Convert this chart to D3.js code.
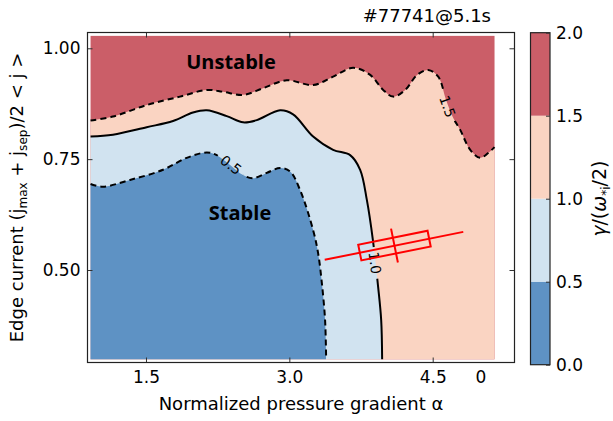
<!DOCTYPE html>
<html>
<head>
<meta charset="utf-8">
<script src="https://cdn.jsdelivr.net/npm/d3@7"></script>
<style>
  body { margin: 0; background: #fff; }
  svg { display: block; font-family: "DejaVu Sans", sans-serif; }
</style>
</head>
<body>
<div id="chart"></div>
<script>
// growth-rate levels and the fill used for each band
const levels = [0.0, 0.5, 1.0, 1.5, 2.0];
const levelColors = ['#5e92c4', '#d1e3f0', '#fad4c2', '#cb5e68'];

// contour lines of gamma, as [alpha, edge current]
const contour05 = [
  [0.92, 0.694], [1.05, 0.688], [1.332, 0.703], [1.678, 0.726], [1.926, 0.753],
  [2.136, 0.765], [2.24, 0.759], [2.38, 0.737], [2.516, 0.714], [2.62, 0.707],
  [2.764, 0.719], [2.903, 0.73], [3.008, 0.722], [3.113, 0.68], [3.249, 0.59],
  [3.301, 0.538], [3.34, 0.471], [3.374, 0.387], [3.385, 0.2986]
];
const contour10 = [
  [0.92, 0.801], [1.154, 0.805], [1.507, 0.822], [1.783, 0.836], [1.992, 0.855],
  [2.136, 0.86], [2.345, 0.847], [2.516, 0.833], [2.659, 0.838], [2.903, 0.86],
  [3.039, 0.851], [3.249, 0.801], [3.458, 0.771], [3.636, 0.759], [3.741, 0.726],
  [3.811, 0.658], [3.874, 0.568], [3.929, 0.462], [3.961, 0.387], [3.971, 0.2986]
];
const contour15 = [
  [0.92, 0.837], [1.154, 0.846], [1.507, 0.872], [1.856, 0.891], [2.136, 0.906],
  [2.306, 0.902], [2.516, 0.895], [2.725, 0.91], [2.973, 0.928], [3.249, 0.917],
  [3.458, 0.936], [3.668, 0.956], [3.846, 0.94], [3.982, 0.906], [4.086, 0.891],
  [4.212, 0.906], [4.337, 0.94], [4.453, 0.951], [4.558, 0.936], [4.641, 0.883],
  [4.715, 0.843], [4.788, 0.816], [4.893, 0.771], [4.997, 0.753], [5.081, 0.764],
  [5.147, 0.777]
];

const contourLabels = [
  { text: '0.5', a: 2.389, j: 0.737 },
  { text: '1.0', a: 3.896, j: 0.516 },
  { text: '1.5', a: 4.655, j: 0.869 }
];
const regionLabels = [
  { text: 'Unstable', a: 2.389, j: 0.969 },
  { text: 'Stable', a: 2.484, j: 0.629 }
];

// scanned range and axis limits
const alphaExtent = [0.92, 5.147];
const currentExtent = [0.2986, 1.028];
const xLimits = [0.888, 5.356];
const yLimits = [0.2914, 1.0356];

const xTickValues = [1.5, 3.0, 4.5, 5.0];
const xTickLabels = ['1.5', '3.0', '4.5', '0'];
const yTickValues = [0.5, 0.75, 1.0];
const yTickLabels = ['0.50', '0.75', '1.00'];
const cbTickLabels = ['0.0', '0.5', '1.0', '1.5', '2.0'];

const shotLabel = '#77741@5.1s';

// experimental operating point with its uncertainty box
const opCenter = [4.10, 0.555];
const opLine = [[3.37, 0.523], [4.82, 0.586]];
const opBox = [0.37, 0.018];
const opBar = 0.039;

const width = 613;
const height = 421;
const plot = { left: 87.5, right: 514.5, top: 32.5, bottom: 362.5 };

const svg = d3.select('#chart')
  .append('svg')
    .attr('width', width)
    .attr('height', height);

const x = d3.scaleLinear().domain(xLimits).range([plot.left, plot.right]);
const y = d3.scaleLinear().domain(yLimits).range([plot.bottom, plot.top]);

const line = d3.line()
  .x(d => x(d[0]))
  .y(d => y(d[1]))
  .curve(d3.curveCatmullRom.alpha(0.5));

const x0 = x(alphaExtent[0]), x1 = x(alphaExtent[1]);
const y0 = y(currentExtent[0]), y1 = y(currentExtent[1]);

// filled bands, painted from the top level down
svg.append('rect')
  .attr('x', x0)
  .attr('y', y1)
  .attr('width', x1 - x0)
  .attr('height', y0 - y1)
  .attr('fill', levelColors[3]);

svg.append('path')
  .attr('d', line(contour15) + `L${x1},${y0}L${x0},${y0}Z`)
  .attr('fill', levelColors[2]);

svg.append('path')
  .attr('d', line(contour10) + `L${x0},${y0}Z`)
  .attr('fill', levelColors[1]);

svg.append('path')
  .attr('d', line(contour05) + `L${x0},${y0}Z`)
  .attr('fill', levelColors[0]);

// where a label sits, take the direction of the contour
const labelAngle = (pts, a, j) => {
  let best = 0;
  let bestD = Infinity;
  pts.forEach((p, i) => {
    const d = (x(p[0]) - x(a)) ** 2 + (y(p[1]) - y(j)) ** 2;
    if (d < bestD) { bestD = d; best = i; }
  });
  const p0 = pts[Math.max(best - 1, 0)];
  const p1 = pts[Math.min(best + 1, pts.length - 1)];
  let ang = Math.atan2(y(p1[1]) - y(p0[1]), x(p1[0]) - x(p0[0])) * 180 / Math.PI;
  if (ang > 90) ang -= 180;
  if (ang < -90) ang += 180;
  return ang;
};

const contourByLabel = { '0.5': contour05, '1.0': contour10, '1.5': contour15 };
contourLabels.forEach(l => {
  l.angle = labelAngle(contourByLabel[l.text], l.a, l.j);
});

// cut the lines where the labels go
const mask = svg.append('defs')
  .append('mask')
    .attr('id', 'labelGaps')
    .attr('maskUnits', 'userSpaceOnUse')
    .attr('x', 0).attr('y', 0)
    .attr('width', width).attr('height', height);
mask.append('rect')
  .attr('width', width)
  .attr('height', height)
  .attr('fill', '#fff');
mask.selectAll('.gap')
  .data(contourLabels)
  .enter()
  .append('rect')
    .attr('x', -16)
    .attr('y', -7)
    .attr('width', 32)
    .attr('height', 14)
    .attr('fill', '#000')
    .attr('transform', d => `translate(${x(d.a)},${y(d.j)}) rotate(${d.angle})`);

const lines = svg.append('g')
  .attr('mask', 'url(#labelGaps)')
  .attr('fill', 'none')
  .attr('stroke', '#000')
  .attr('stroke-width', 2);

lines.append('path').attr('d', line(contour05)).attr('stroke-dasharray', '6,4');
lines.append('path').attr('d', line(contour10));
lines.append('path').attr('d', line(contour15)).attr('stroke-dasharray', '6,4');

svg.selectAll('.clabel')
  .data(contourLabels)
  .enter()
  .append('text')
    .attr('class', 'clabel')
    .attr('transform', d => `translate(${x(d.a)},${y(d.j)}) rotate(${d.angle})`)
    .attr('text-anchor', 'middle')
    .attr('dy', '0.36em')
    .style('font-size', '14px')
    .text(d => d.text);

svg.selectAll('.region')
  .data(regionLabels)
  .enter()
  .append('text')
    .attr('class', 'region')
    .attr('x', d => x(d.a))
    .attr('y', d => y(d.j))
    .attr('dy', '0.36em')
    .attr('text-anchor', 'middle')
    .style('font-family', '"Open Sans", sans-serif')
    .style('font-weight', 'bold')
    .style('font-size', '20px')
    .text(d => d.text);

// operating point
const opAngle = Math.atan2(y(opLine[1][1]) - y(opLine[0][1]), x(opLine[1][0]) - x(opLine[0][0])) * 180 / Math.PI;
svg.append('line')
  .attr('x1', x(opLine[0][0]))
  .attr('y1', y(opLine[0][1]))
  .attr('x2', x(opLine[1][0]))
  .attr('y2', y(opLine[1][1]))
  .attr('stroke', '#f00')
  .attr('stroke-width', 2);

const op = svg.append('g')
  .attr('transform', `translate(${x(opCenter[0])},${y(opCenter[1])}) rotate(${opAngle})`)
  .attr('fill', 'none')
  .attr('stroke', '#f00')
  .attr('stroke-width', 2);
const boxW = x(opCenter[0] + opBox[0]) - x(opCenter[0] - opBox[0]);
const boxH = y(opCenter[1] - opBox[1]) - y(opCenter[1] + opBox[1]);
const barH = y(opCenter[1] - opBar) - y(opCenter[1] + opBar);
op.append('rect')
  .attr('x', -boxW / 2)
  .attr('y', -boxH / 2)
  .attr('width', boxW)
  .attr('height', boxH);
op.append('line')
  .attr('x1', 0).attr('x2', 0)
  .attr('y1', -barH / 2).attr('y2', barH / 2);

// axes, ticks pointing inwards on all four sides
const styleAxis = g => {
  g.select('.domain').remove();
  g.attr('font-size', 17).attr('font-family', '"DejaVu Sans", sans-serif');
  g.selectAll('.tick line').attr('stroke', '#333');
};

const xAxis = svg.append('g')
  .attr('transform', `translate(0,${plot.bottom})`)
  .call(d3.axisBottom(x).tickValues(xTickValues)
    .tickFormat((d, i) => xTickLabels[i])
    .tickSizeInner(-5).tickSizeOuter(0).tickPadding(8))
  .call(styleAxis);
xAxis.selectAll('.tick')
  .filter((d, i) => xTickLabels[i] === '0')
  .select('line').remove();

svg.append('g')
  .attr('transform', `translate(0,${plot.top})`)
  .call(d3.axisTop(x).tickValues(xTickValues.filter((d, i) => xTickLabels[i] !== '0'))
    .tickFormat('').tickSizeInner(-5).tickSizeOuter(0))
  .call(styleAxis);

svg.append('g')
  .attr('transform', `translate(${plot.left},0)`)
  .call(d3.axisLeft(y).tickValues(yTickValues)
    .tickFormat((d, i) => yTickLabels[i])
    .tickSizeInner(-5).tickSizeOuter(0).tickPadding(7))
  .call(styleAxis);

svg.append('g')
  .attr('transform', `translate(${plot.right},0)`)
  .call(d3.axisRight(y).tickValues(yTickValues)
    .tickFormat('').tickSizeInner(-5).tickSizeOuter(0))
  .call(styleAxis);

svg.append('rect')
  .attr('x', plot.left)
  .attr('y', plot.top)
  .attr('width', plot.right - plot.left)
  .attr('height', plot.bottom - plot.top)
  .attr('fill', 'none')
  .attr('stroke', '#222')
  .attr('stroke-width', 1.2);

// labels
svg.append('text')
  .attr('x', 491)
  .attr('y', 22)
  .attr('text-anchor', 'end')
  .style('font-size', '18px')
  .text(shotLabel);

svg.append('text')
  .attr('x', (plot.left + plot.right) / 2)
  .attr('y', 410)
  .attr('text-anchor', 'middle')
  .style('font-size', '18px')
  .text('Normalized pressure gradient α');

const yLabel = svg.append('text')
  .attr('transform', `translate(23,${(plot.top + plot.bottom) / 2}) rotate(-90)`)
  .attr('text-anchor', 'middle')
  .style('font-size', '18px');
yLabel.append('tspan').text('Edge current (j');
yLabel.append('tspan').attr('dy', 4).style('font-size', '12px').text('max');
yLabel.append('tspan').attr('dy', -4).text(' + j');
yLabel.append('tspan').attr('dy', 4).style('font-size', '12px').text('sep');
yLabel.append('tspan').attr('dy', -4).text(')/2 < j >');

// colour bar
const cb = { left: 530.5, right: 550, top: 32.7, bottom: 364.7 };
const cbY = d3.scaleLinear().domain([levels[0], levels[levels.length - 1]]).range([cb.bottom, cb.top]);

svg.selectAll('.cbband')
  .data(levelColors)
  .enter()
  .append('rect')
    .attr('class', 'cbband')
    .attr('x', cb.left)
    .attr('y', (d, i) => cbY(levels[i + 1]))
    .attr('width', cb.right - cb.left)
    .attr('height', (d, i) => cbY(levels[i]) - cbY(levels[i + 1]))
    .attr('fill', d => d);

svg.append('rect')
  .attr('x', cb.left)
  .attr('y', cb.top)
  .attr('width', cb.right - cb.left)
  .attr('height', cb.bottom - cb.top)
  .attr('fill', 'none')
  .attr('stroke', '#222')
  .attr('stroke-width', 1.2);

svg.append('g')
  .attr('transform', `translate(${cb.right},0)`)
  .call(d3.axisRight(cbY).tickValues(levels)
    .tickFormat((d, i) => cbTickLabels[i])
    .tickSizeInner(-4).tickSizeOuter(0).tickPadding(6))
  .call(styleAxis);

const cbLabel = svg.append('text')
  .attr('transform', `translate(606,${(cb.top + cb.bottom) / 2}) rotate(-90)`)
  .attr('text-anchor', 'middle')
  .style('font-size', '19px');
cbLabel.append('tspan').style('font-style', 'italic').text('γ');
cbLabel.append('tspan').text('/(');
cbLabel.append('tspan').style('font-style', 'italic').text('ω');
cbLabel.append('tspan').attr('dy', 4).style('font-size', '12px').text('*i');
cbLabel.append('tspan').attr('dy', -4).text('/2)');
</script>
</body>
</html>
